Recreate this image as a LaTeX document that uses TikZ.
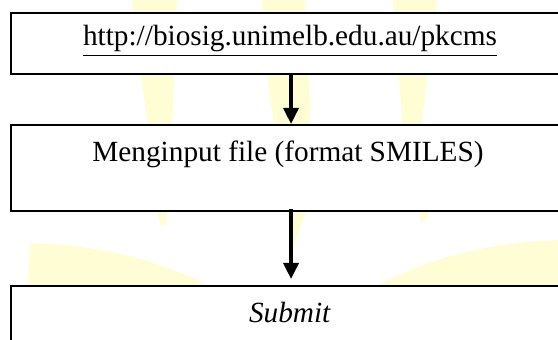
\documentclass[tikz,border=0pt]{standalone}
\usepackage{fontspec}
\setmainfont{Liberation Serif}
\usepackage{xcolor}
\usetikzlibrary{positioning,arrows.meta}

\definecolor{sunpale}{HTML}{FFFDD4}
\newcommand{\px}{0.0144cm}

\tikzset{
    flowbox/.style={draw, line width=0.85pt, fill=white, anchor=north west, inner sep=0pt, minimum width=560*\px},
    flowtext/.style={anchor=base, inner sep=0pt, font=\fontsize{12}{14}\selectfont},
    flowarrow/.style={-{Triangle[length=6.6pt,width=6.2pt]}, line width=1.3pt}
}

\begin{document}
\begin{tikzpicture}[x=\px, y=-\px]
    \useasboundingbox (0,0) rectangle (558,340);
    \clip (0,0) rectangle (558,340);

    % Watermark
    \fill[sunpale] (132,0) -- (177,0) -- (172,130) -- (166,225) -- (160,225) -- (148,130) -- cycle;
    \fill[sunpale] (262,0) -- (305,0) -- (310,110) -- (307,210) -- (291,252) -- (285,180) -- (270,100) -- cycle;
    \fill[sunpale] (393,0) -- (437,0) -- (421,130) -- (428,218) -- (421,222) -- (403,130) -- cycle;
    \fill[sunpale] (28,292) -- (30,244) .. controls (90,242) and (170,262) .. (220,292) -- cycle;
    \fill[sunpale] (364,292) .. controls (420,262) and (480,242) .. (560,240) -- (560,292) -- cycle;

    % Boxes
    \node[flowbox, minimum height=61*\px] (web) at (10,12) {};
    \node[flowbox, minimum height=86*\px] (input) at (10,124) {};
    \node[flowbox, minimum height=90*\px] (submit) at (10,285) {};

    % Texts
    \node[flowtext] (webtext) at (290,46) {\underline{http://biosig.unimelb.edu.au/pkcms}};
    \node[flowtext] (inputtext) at (288,162) {Menginput file (format SMILES)};
    \node[flowtext] (submittext) at (290,323) {\textit{Submit}};

    % Arrows
    \draw[flowarrow] (web.south) -- (input.north);
    \draw[flowarrow] ([yshift=3*\px]input.south) -- ([yshift=6*\px]submit.north);
\end{tikzpicture}
\end{document}
